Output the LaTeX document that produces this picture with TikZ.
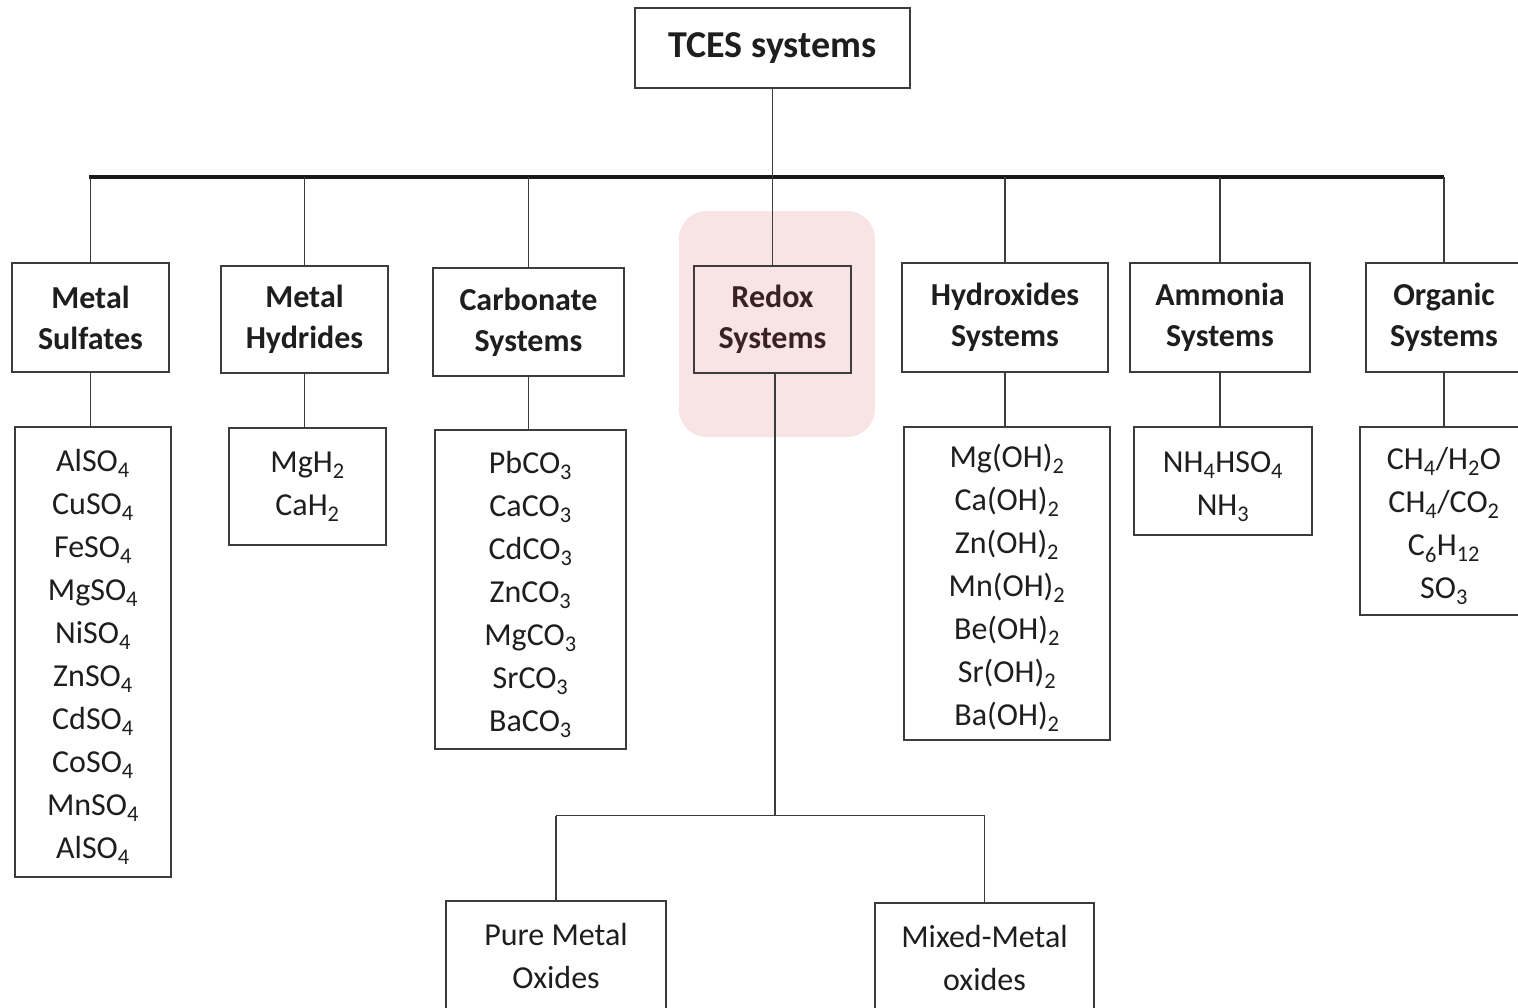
\documentclass[tikz,border=0pt]{standalone}
\usepackage{fontspec}
\setmainfont{Carlito}
\usepackage{tikz}
\usetikzlibrary{calc, positioning}
\definecolor{xline}{HTML}{3C3C3C}
\definecolor{xtext}{HTML}{1E1E1E}
\definecolor{xpink}{HTML}{F8E4E4}
\definecolor{xredox}{HTML}{3A2222}
\tikzset{
  catbox/.style args={#1:#2}{draw=xline, line width=1.1pt, inner sep=0pt, align=center, text=xtext,
    minimum width=#1, minimum height=#2, font=\bfseries\fontsize{32}{41}\selectfont},
  listbox/.style args={#1:#2}{draw=xline, line width=1.1pt, inner sep=0pt, align=center, text=xtext,
    minimum width=#1, minimum height=#2, font=\fontsize{32}{43}\selectfont},
  link/.style = {draw=xline, line width=1.1pt},
  bus/.style = {draw=black!90, line width=3.5pt},
}
\newcommand{\sub}[1]{\textsubscript{#1}}
\newcommand{\topstrut}{\rule{0pt}{32pt}}

\begin{document}
\begin{tikzpicture}[x=1pt, y=-1pt]
  \fill[white] (0,0) rectangle (1518,1007);
  \useasboundingbox (0,0) rectangle (1518,1007);
  % highlight behind the redox branch
  \fill[xpink, rounded corners=28pt] (679,211) rectangle (875,437);

  \node[catbox={275pt:80pt}, font=\bfseries\fontsize{38}{46}\selectfont] (tces) at (772.5,48) {TCES systems};

  % categories
  \node[catbox={157pt:109pt}] (sulf)   at (90.5,317.5)  {Metal\\Sulfates};
  \node[catbox={167pt:107pt}] (hydr)   at (304.5,319.5) {Metal\\Hydrides};
  \node[catbox={191pt:108pt}] (carb)   at (528.5,322)   {Carbonate\\Systems};
  \node[catbox={157pt:107pt}, text=xredox] (redox) at (772.5,319.5) {Redox\\Systems};
  \node[catbox={206pt:109pt}] (hydrox) at (1005,317.5)  {Hydroxides\\Systems};
  \node[catbox={180pt:109pt}] (ammon)  at (1220,317.5)  {Ammonia\\Systems};
  \node[catbox={156pt:109pt}] (organ)  at (1444,317.5)  {Organic\\Systems};

  % compounds
  \node[listbox={156pt:450pt}] (sulfList) at (93,652) {\topstrut AlSO\sub4\\CuSO\sub4\\FeSO\sub4\\MgSO\sub4\\NiSO\sub4\\ZnSO\sub4\\CdSO\sub4\\CoSO\sub4\\MnSO\sub4\\AlSO\sub4};
  \node[listbox={157pt:117pt}] (hydrList) at (307.5,486.5) {MgH\sub2\\CaH\sub2};
  \node[listbox={191pt:319pt}] (carbList) at (530.5,589.5) {\topstrut PbCO\sub3\\CaCO\sub3\\CdCO\sub3\\ZnCO\sub3\\MgCO\sub3\\SrCO\sub3\\BaCO\sub3};
  \node[listbox={206pt:313pt}] (hydroxList) at (1007,583.5) {\topstrut Mg(OH)\sub2\\Ca(OH)\sub2\\Zn(OH)\sub2\\Mn(OH)\sub2\\Be(OH)\sub2\\Sr(OH)\sub2\\Ba(OH)\sub2};
  \node[listbox={178pt:108pt}] (ammonList) at (1223,481) {\topstrut NH\sub4HSO\sub4\\NH\sub3};
  \node[listbox={168pt:188pt}] (organList) at (1444,521) {\topstrut CH\sub4/H\sub2O\\CH\sub4/CO\sub2\\C\sub6H\sub{12}\\SO\sub3};

  % oxides under redox
  \node[listbox={220pt:110pt}] (pure)  at (556,956)   {Pure Metal\\Oxides};
  \node[listbox={219pt:110pt}] (mixed) at (984.5,958) {Mixed-Metal\\oxides};

  % connectors
  \coordinate (busL) at (89,177);
  \coordinate (busR) at (1444,177);
  \draw[bus] (busL) -- (busR);
  \draw[link] (tces.south) -- (redox.north);
  \foreach \n in {sulf, hydr, carb, hydrox, ammon, organ}
    \draw[link] (\n.north |- busL) -- (\n.north);
  \foreach \n in {sulf, hydr, carb, hydrox, ammon, organ}
    \draw[link] (\n.south) -- (\n.south |- \n List.north);
  \coordinate (split) at ($(redox.south)+(2.5,442)$);
  \draw[link] ($(redox.south)+(2.5,0)$) -- (split);
  \draw[link] (pure.north |- split) -- (mixed.north |- split);
  \draw[link] (pure.north |- split) -- (pure.north);
  \draw[link] (mixed.north |- split) -- (mixed.north);
\end{tikzpicture}
\end{document}
